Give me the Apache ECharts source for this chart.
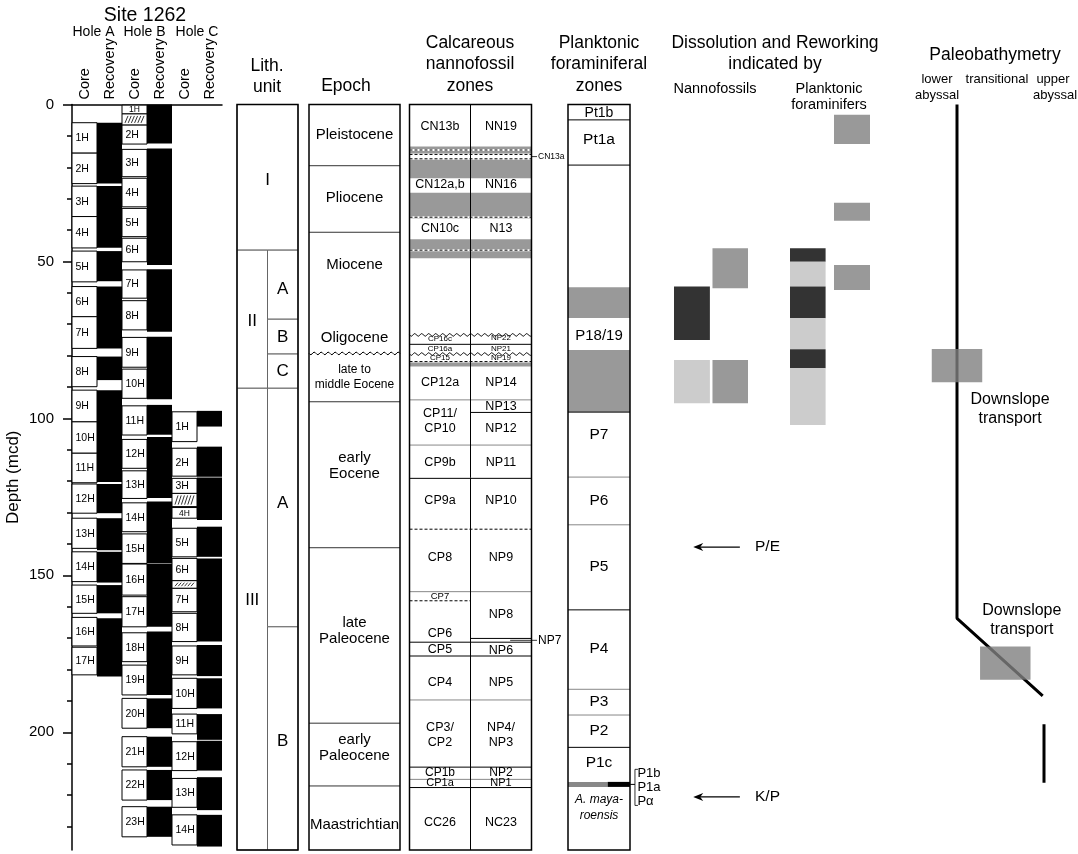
<!DOCTYPE html>
<html><head><meta charset="utf-8"><title>Site 1262</title>
<script src="https://cdn.jsdelivr.net/npm/echarts@6.0.0/dist/echarts.min.js"></script>
<style>html,body{margin:0;padding:0;background:#fff;}#chart{width:1078px;height:854px;}</style>
</head><body><div id="chart"></div>
<script>
// ---------------- DATA (depths in mcd) ----------------
const coreColumnLabels = ['Core', 'Recovery', 'Core', 'Recovery', 'Core', 'Recovery'];
const depthMajor = [0, 50, 100, 150, 200];
const depthMinor = [10, 20, 30, 40, 60, 70, 80, 90, 110, 120, 130, 140, 160, 170, 180, 190, 210, 220, 230];

// cores: [label, top, bottom]
const holeACores = [
  ['1H', 5.8, 15.5], ['2H', 15.5, 25.2], ['3H', 26.0, 35.7], ['4H', 35.7, 45.7], ['5H', 46.7, 56.5],
  ['6H', 58.0, 67.6], ['7H', 67.6, 77.7], ['8H', 80.3, 89.9], ['9H', 91.0, 101.1], ['10H', 101.1, 111.1],
  ['11H', 111.1, 120.5], ['12H', 120.9, 130.2], ['13H', 131.8, 141.4], ['14H', 142.5, 152.0],
  ['15H', 153.1, 162.1], ['16H', 163.4, 172.5], ['17H', 172.9, 181.7]];
const holeARecovery = [[5.8, 25.2], [26.0, 45.6], [46.7, 56.3], [58.0, 77.7], [80.3, 87.8], [91.0, 120.3],
  [120.9, 130.2], [131.8, 142.0], [142.5, 152.3], [153.1, 162.1], [163.7, 182.2]];
const holeBCores = [
  ['1H', 0.2, 3.0], ['2H', 6.5, 12.6], ['3H', 14.3, 23.0], ['4H', 23.5, 32.6], ['5H', 33.1, 42.1], ['6H', 42.6, 50.1],
  ['7H', 52.7, 61.7], ['8H', 62.5, 71.8], ['9H', 74.2, 83.7], ['10H', 84.3, 93.6], ['11H', 96.0, 105.3],
  ['12H', 106.7, 115.9], ['13H', 116.7, 125.5], ['14H', 126.9, 136.1], ['15H', 136.8, 146.2], ['16H', 146.4, 156.3],
  ['17H', 156.8, 166.4], ['18H', 168.3, 177.5], ['19H', 178.6, 188.1], ['20H', 189.2, 198.7], ['21H', 201.4, 211.0],
  ['22H', 212.0, 221.6], ['23H', 223.7, 233.3]];
const holeBRecovery = [[0, 12.4], [14.0, 51.1], [52.5, 72.4], [74.0, 93.9], [95.7, 105.2], [105.9, 125.4],
  [126.5, 146.2], [146.4, 166.4], [167.9, 188.1], [189.2, 198.7], [201.4, 211.0], [212.0, 221.6], [223.7, 233.3]];
const holeBDisturbed = [[3.0, 6.5]];
const holeCCores = [
  ['1H', 97.9, 107.4], ['2H', 109.5, 118.4], ['3H', 119.1, 123.9], ['4H', 128.4, 131.8], ['5H', 135.0, 144.1],
  ['6H', 144.6, 151.7], ['7H', 154.1, 161.6], ['8H', 162.1, 171.1], ['9H', 172.5, 181.7], ['10H', 182.8, 192.4],
  ['11H', 194.2, 200.5], ['12H', 203.0, 212.2], ['13H', 214.7, 223.9], ['14H', 226.3, 235.9]];
const holeCRecovery = [[97.6, 102.6], [109.0, 118.6], [118.8, 132.4], [134.5, 144.1], [144.6, 171.1], [172.2, 182.1],
  [182.8, 192.4], [194.2, 202.4], [202.7, 212.2], [214.3, 224.8], [226.3, 236.4]];
const holeCDisturbed = [[123.9, 128.1], [151.7, 154.1]];

// lithologic units: [label, top, bottom, column(0 full,1 left,2 right), label depth]
const lithUnits = [
  ['I', 0, 46.4, 0, 24.1], ['II', 46.4, 90.4, 1, 69.2], ['A', 46.4, 68.4, 2, 58.8], ['B', 68.4, 79.5, 2, 74.1],
  ['C', 79.5, 90.4, 2, 85.1], ['III', 90.4, 237.5, 1, 157.9], ['A', 90.4, 166.4, 2, 127.0], ['B', 166.4, 237.5, 2, 203.0]];

// epochs
const epochBounds = [[19.5, 'solid'], [40.7, 'solid'], [79.3, 'wavy'], [94.7, 'solid'], [141.2, 'solid'], [197.1, 'solid'], [217.1, 'solid']];
const epochLabels = [['Pleistocene', 9.7, 15], ['Pliocene', 29.8, 15], ['Miocene', 51.1, 15], ['Oligocene', 74.4, 15],
  ['late to', 84.6, 12], ['middle Eocene', 89.2, 12], ['early', 112.6, 15], ['Eocene', 117.6, 15],
  ['late', 165.2, 15], ['Paleocene', 170.2, 15], ['early', 202.5, 15], ['Paleocene', 207.5, 15], ['Maastrichtian', 229.5, 15]];

// calcareous nannofossil zones
const nannoGray = [[13.4, 23.5], [28.1, 36.3], [42.9, 49.0], [81.9, 83.5]];
const nannoWhite = [[15.9, 17.3]];
const nannoBounds = [ // [depth, style, scope 0 both / 1 left / 2 right]
  [14.5, 'dash', 0], [15.9, 'dash', 0], [17.3, 'dash', 0], [35.9, 'dash', 0], [46.4, 'dash', 0],
  [73.4, 'wavy', 0], [76.4, 'solid', 0], [79.5, 'wavy', 0], [81.9, 'dash', 0],
  [94.1, 'gray', 0], [98.1, 'solid', 2], [108.5, 'gray', 0], [119.1, 'solid', 0], [135.3, 'dash', 0],
  [155.2, 'gray', 0], [158.1, 'dash', 1], [170.1, 'solid', 2], [171.3, 'solid', 0], [175.7, 'solid', 0],
  [189.7, 'gray', 0], [211.1, 'solid', 0], [215.0, 'gray', 0], [217.6, 'solid', 0]];
const nannoCPLabels = [['CN13b', 6.9, 12.5], ['CN12a,b', 25.6, 12.5], ['CN10c', 39.6, 12.5], ['CP16c', 74.8, 8], ['CP16a', 77.8, 8],
  ['CP15', 80.6, 8], ['CP12a', 88.7, 12.5], ['CP11/', 98.4, 12.5], ['CP10', 103.2, 12.5], ['CP9b', 114.2, 12.5],
  ['CP9a', 126.3, 12.5], ['CP8', 144.2, 12.5], ['CP7', 156.8, 9.5], ['CP6', 168.7, 12.5], ['CP5', 173.5, 12.5],
  ['CP4', 184.3, 12.5], ['CP3/', 198.6, 12.5], ['CP2', 203.4, 12.5], ['CP1b', 213.0, 12], ['CP1a', 216.2, 11], ['CC26', 228.9, 12.5]];
const nannoNPLabels = [['NN19', 6.9, 12.5], ['NN16', 25.6, 12.5], ['N13', 39.6, 12.5], ['NP22', 74.3, 8], ['NP21', 77.7, 8],
  ['NP19', 80.6, 8], ['NP14', 88.7, 12.5], ['NP13', 96.1, 12.5], ['NP12', 103.2, 12.5], ['NP11', 114.2, 12.5],
  ['NP10', 126.3, 12.5], ['NP9', 144.2, 12.5], ['NP8', 162.6, 12.5], ['NP6', 174.0, 12.5], ['NP5', 184.3, 12.5],
  ['NP4/', 198.6, 12.5], ['NP3', 203.4, 12.5], ['NP2', 213.0, 12], ['NP1', 216.2, 11], ['NC23', 228.9, 12.5]];
const nannoCallouts = [['CN13a', 16.6, 2.0, 8.5], ['NP7', 170.7, 1.65, 12]];

// planktonic foraminiferal zones
const foramGray = [[58.2, 68.0], [78.2, 98.0]];
const foramBounds = [[4.9, '#000'], [19.3, '#000'], [98.0, '#000'], [118.7, '#888'], [133.9, '#888'], [161.0, '#000'],
  [186.3, '#888'], [194.5, '#888'], [204.8, '#000']];
const foramLabels = [['Pt1b', 2.6, 14], ['Pt1a', 11.3, 15.5], ['P18/19', 73.6, 15], ['P7', 105.3, 15.5], ['P6', 126.3, 15.5],
  ['P5', 147.3, 15.5], ['P4', 173.4, 15.5], ['P3', 190.4, 15.5], ['P2', 199.6, 15.5], ['P1c', 209.8, 15.5]];
const foramItalic = [['A. maya-', 221.6], ['roensis', 226.4]];
const foramKPmarker = [215.8, 217.4];
const foramSubzones = [['P1b', 213.0], ['P1a', 217.6], ['Pα', 222.1]];

// dissolution & reworking: [column, top, bottom, shade]
const dissNanno = [[1, 45.8, 58.5, 'mid'], [0, 58.0, 75.0, 'dark'], [0, 81.4, 95.2, 'light'], [1, 81.4, 95.2, 'mid']];
const dissForam = [[0, 45.8, 50.1, 'dark'], [0, 50.1, 58.0, 'light'], [0, 58.0, 68.1, 'dark'], [0, 68.1, 78.0, 'light'],
  [0, 78.0, 84.0, 'dark'], [0, 84.0, 102.1, 'light'], [1, 3.3, 12.6, 'mid'], [1, 31.3, 37.0, 'mid'], [1, 51.1, 59.1, 'mid']];
const eventBoundaries = [['P/E', 141.0], ['K/P', 220.6]];

// paleobathymetry (0 = lower abyssal, 2 = upper abyssal)
const bathyPathA = [[0, 0], [0, 163.7], [1.97, 188.4]];
const bathyPathB = [[2, 197.4], [2, 216.1]];
const bathyBoxes = [[-0.58, 0.58, 77.9, 88.5], [0.53, 1.69, 172.7, 183.3]];
const bathyNotes = [['Downslope\ntransport', 1.22, 96.9], ['Downslope\ntransport', 1.49, 164.2]];

// ---------------- LAYOUT ----------------
const FONT = '"Liberation Sans", Arial, Helvetica, sans-serif';
const D_MAX = 237.5, GRID_TOP = 104.5, GRID_H = 745.5;
const panels = [
  {left: 72, width: 150, min: 0, max: 6},
  {left: 237, width: 61, min: 0, max: 2},
  {left: 309, width: 91, min: 0, max: 1},
  {left: 409.5, width: 122, min: 0, max: 2},
  {left: 568, width: 62, min: 0, max: 1},
  {left: 674, width: 74, min: 0, max: 2},
  {left: 790, width: 80, min: 0, max: 2},
  {left: 922.2, width: 147.9, min: -0.8, max: 2.6}];
const axIdx = g => (g === 0 ? 0 : g + 1);
const SHADE = {dark: '#333333', mid: '#999999', light: '#cccccc'};
const LITH_COLS = [[0, 2], [0, 1], [1, 2]];
const NANNO_SCOPE = [[0, 2], [0, 1], [1, 2]];
const DISS_NANNO_X = [[0, 0.97], [1.04, 2]];
const DISS_FORAM_X = [[0, 0.89], [1.1, 2]];

// ---------------- helpers ----------------
function box(api, x0, x1, d0, d1) {
  const a = api.coord([x0, d0]), b = api.coord([x1, d1]);
  return {x: Math.min(a[0], b[0]), y: Math.min(a[1], b[1]), width: Math.abs(b[0] - a[0]), height: Math.abs(b[1] - a[1])};
}
function txt(x, y, s, size, extra) {
  return {type: 'text', style: Object.assign({text: s, x: x, y: y, fill: '#000', fontSize: size, fontFamily: FONT,
    align: 'center', verticalAlign: 'middle'}, extra || {})};
}
function ln(x1, y1, x2, y2, stroke, w, dash) {
  return {type: 'line', shape: {x1: x1, y1: y1, x2: x2, y2: y2}, style: {stroke: stroke || '#000', lineWidth: w || 1, lineDash: dash || null}};
}
function wavy(xa, xb, y) {
  const pts = [];
  for (let x = xa; x <= xb + 0.01; x += 1) pts.push([x, y + 1.3 * Math.sin((x - xa) / 7 * 2 * Math.PI)]);
  return {type: 'polyline', shape: {points: pts}, style: {stroke: '#000', lineWidth: 1, fill: null}};
}
function custom(g, items, render, z) {
  return {type: 'custom', xAxisIndex: axIdx(g), yAxisIndex: axIdx(g), z: z || 2, silent: true, clip: false,
    data: items.map((it, i) => [i, 0]), renderItem: (params, api) => render(items[params.dataIndex], api)};
}

// ---------------- core items ----------------
const coreItems = [];
[[holeACores, holeARecovery, [], 0], [holeBCores, holeBRecovery, holeBDisturbed, 2], [holeCCores, holeCRecovery, holeCDisturbed, 4]]
  .forEach(([cores, rec, dist, c]) => {
    rec.forEach(r => coreItems.push({kind: 'rec', col: c + 1, top: r[0], bot: r[1]}));
    cores.forEach(k => coreItems.push({kind: 'core', col: c, top: k[1], bot: k[2], label: k[0]}));
    dist.forEach(r => coreItems.push({kind: 'hatch', col: c, top: r[0], bot: r[1]}));
  });
function renderCore(it, api) {
  const r = box(api, it.col, it.col + 1, it.top, it.bot);
  if (it.kind === 'rec') return {type: 'rect', shape: r, style: {fill: '#000'}};
  if (it.kind === 'core') {
    const small = r.height < 14;
    return {type: 'group', children: [
      {type: 'rect', shape: r, style: {fill: '#fff', stroke: '#000', lineWidth: 1}},
      txt(small ? r.x + r.width / 2 : r.x + 3.5, r.y + r.height / 2 + 0.5, it.label, small ? 8.5 : 10.5, {align: small ? 'center' : 'left'})]};
  }
  const ch = [{type: 'rect', shape: r, style: {fill: '#fff', stroke: '#000', lineWidth: 1}}];
  for (let x = r.x + 3; x < r.x + r.width - 5; x += 3.2) ch.push(ln(x, r.y + r.height - 2, x + 3, r.y + 2, '#000', 0.8));
  return {type: 'group', children: ch};
}

function frame(g, xs) {
  return custom(g, [0], (it, api) => {
    const ch = [{type: 'rect', shape: box(api, panels[g].min, panels[g].max, 0, D_MAX), style: {fill: null, stroke: '#000', lineWidth: 1.5}}];
    (xs || []).forEach(x => { const a = api.coord([x, 0]), b = api.coord([x, D_MAX]); ch.push(ln(a[0], a[1], b[0], b[1], '#000', 1)); });
    return {type: 'group', children: ch};
  }, 10);
}

const series = [
  custom(0, coreItems, renderCore, 2),
  // lithology
  custom(1, lithUnits, (u, api) => {
    const c = LITH_COLS[u[3]];
    const r = box(api, c[0], c[1], u[1], u[2]);
    return {type: 'group', children: [
      {type: 'rect', shape: r, style: {fill: '#fff', stroke: '#666', lineWidth: 1}},
      txt(r.x + r.width / 2, api.coord([0, u[4]])[1], u[0], 17)]};
  }, 2),
  frame(1),
  // epochs
  custom(2, epochBounds, (b, api) => {
    const a = api.coord([0, b[0]]), e = api.coord([1, b[0]]);
    return b[1] === 'wavy' ? wavy(a[0], e[0], a[1]) : ln(a[0], a[1], e[0], e[1], '#333', 1);
  }, 3),
  custom(2, epochLabels, (l, api) => { const p = api.coord([0.5, l[1]]); return txt(p[0], p[1], l[0], l[2]); }, 4),
  frame(2),
  // nannofossil zones
  custom(3, nannoGray, (b, api) => ({type: 'rect', shape: box(api, 0, 2, b[0], b[1]), style: {fill: '#999'}}), 1),
  custom(3, nannoWhite, (b, api) => ({type: 'rect', shape: box(api, 0, 2, b[0], b[1]), style: {fill: '#fff'}}), 2),
  custom(3, nannoBounds, (b, api) => {
    const s = NANNO_SCOPE[b[2]];
    const a = api.coord([s[0], b[0]]), e = api.coord([s[1], b[0]]);
    if (b[1] === 'wavy') return wavy(a[0], e[0], a[1]);
    if (b[1] === 'dash') return {type: 'group', children: [ln(a[0], a[1], e[0], e[1], '#fff', 2), ln(a[0], a[1], e[0], e[1], '#000', 1, [3, 2])]};
    return ln(a[0], a[1], e[0], e[1], b[1] === 'gray' ? '#888' : '#000', 1);
  }, 3),
  custom(3, nannoCPLabels, (l, api) => { const p = api.coord([0.5, l[1]]); return txt(p[0], p[1], l[0], l[2]); }, 4),
  custom(3, nannoNPLabels, (l, api) => { const p = api.coord([1.5, l[1]]); return txt(p[0], p[1], l[0], l[2]); }, 4),
  custom(3, nannoCallouts, (l, api) => {
    const a = api.coord([l[2], l[1]]), e = api.coord([2.09, l[1]]);
    return {type: 'group', children: [ln(a[0], a[1], e[0], e[1], '#000', 0.8), txt(e[0] + 1, e[1], l[0], l[3], {align: 'left'})]};
  }, 4),
  frame(3, [1]),
  // foraminiferal zones
  custom(4, foramGray, (b, api) => ({type: 'rect', shape: box(api, 0, 1, b[0], b[1]), style: {fill: '#999'}}), 1),
  custom(4, foramBounds, (b, api) => { const a = api.coord([0, b[0]]), e = api.coord([1, b[0]]); return ln(a[0], a[1], e[0], e[1], b[1], 1); }, 3),
  custom(4, foramLabels, (l, api) => { const p = api.coord([0.5, l[1]]); return txt(p[0], p[1], l[0], l[2]); }, 4),
  custom(4, foramItalic, (l, api) => { const p = api.coord([0.5, l[1]]); return txt(p[0], p[1], l[0], 12, {fontStyle: 'italic'}); }, 4),
  custom(4, [foramKPmarker], (m, api) => {
    const mid = (m[0] + m[1]) / 2;
    const top = api.coord([1.08, foramSubzones[0][1] - 1.2])[1], bot = api.coord([1.08, foramSubzones[2][1] + 1.2])[1];
    const bx = api.coord([1.08, mid])[0];
    const ch = [
      {type: 'rect', shape: box(api, 0, 0.64, m[0], m[1]), style: {fill: '#888'}},
      {type: 'rect', shape: box(api, 0.64, 1, m[0], m[1]), style: {fill: '#000'}},
      ln(api.coord([1, mid])[0], api.coord([1, mid])[1], bx, api.coord([1, mid])[1], '#000', 1),
      ln(bx, top, bx, bot, '#000', 0.8),
      ln(bx, top, bx + 3, top, '#000', 0.8), ln(bx, bot, bx + 3, bot, '#000', 0.8)];
    foramSubzones.forEach(s => { const p = api.coord([1.12, s[1]]); ch.push(txt(p[0], p[1], s[0], 13, {align: 'left'})); });
    return {type: 'group', children: ch};
  }, 5),
  frame(4),
  // dissolution and reworking
  custom(5, dissNanno, (b, api) => { const c = DISS_NANNO_X[b[0]]; return {type: 'rect', shape: box(api, c[0], c[1], b[1], b[2]), style: {fill: SHADE[b[3]]}}; }, 2),
  custom(6, dissForam, (b, api) => { const c = DISS_FORAM_X[b[0]]; return {type: 'rect', shape: box(api, c[0], c[1], b[1], b[2]), style: {fill: SHADE[b[3]]}}; }, 2),
  custom(5, eventBoundaries, (ev, api) => {
    const s = api.coord([1.78, ev[1]]), e = api.coord([0.52, ev[1]]);
    return {type: 'group', children: [
      ln(s[0], s[1], e[0] + 6, e[1], '#000', 1.2),
      {type: 'polygon', shape: {points: [[e[0], e[1]], [e[0] + 10, e[1] - 4], [e[0] + 7, e[1]], [e[0] + 10, e[1] + 4]]}, style: {fill: '#000'}},
      txt(api.coord([2.19, ev[1]])[0], s[1], ev[0], 15.5, {align: 'left'})]};
  }, 3),
  // paleobathymetry
  {type: 'line', xAxisIndex: axIdx(7), yAxisIndex: axIdx(7), data: bathyPathA, symbol: 'none', silent: true, z: 2,
    lineStyle: {color: '#000', width: 3}},
  {type: 'line', xAxisIndex: axIdx(7), yAxisIndex: axIdx(7), data: bathyPathB, symbol: 'none', silent: true, z: 2,
    lineStyle: {color: '#000', width: 3}},
  custom(7, bathyBoxes, (b, api) => ({type: 'rect', shape: box(api, b[0], b[1], b[2], b[3]), style: {fill: 'rgba(128,128,128,0.8)'}}), 5),
  custom(7, bathyNotes, (n, api) => { const p = api.coord([n[1], n[2]]); return txt(p[0], p[1], n[0], 16, {lineHeight: 19}); }, 5)
];

const headers = [
  ['Site 1262', 145, 16, 19.5], ['Hole A', 93.5, 32, 14], ['Hole B', 144.5, 32, 14], ['Hole C', 197, 32, 14],
  ['Lith.', 267, 66, 17.5], ['unit', 267, 87, 17.5], ['Epoch', 346, 86, 17.5],
  ['Calcareous', 470, 43, 17.5], ['nannofossil', 470, 64, 17.5], ['zones', 470, 86, 17.5],
  ['Planktonic', 599, 43, 17.5], ['foraminiferal', 599, 64, 17.5], ['zones', 599, 86, 17.5],
  ['Dissolution and Reworking', 775, 43, 17.5], ['indicated by', 775, 64, 17.5],
  ['Nannofossils', 715, 89, 14.5], ['Planktonic', 829, 89, 14.5], ['foraminifers', 829, 105, 14.5],
  ['Paleobathymetry', 995, 55, 17.5],
  ['lower', 937, 79, 13], ['abyssal', 937, 95, 13], ['transitional', 997, 79, 13], ['upper', 1053, 79, 13], ['abyssal', 1055, 95, 13]];

const option = {
  backgroundColor: '#fff',
  animation: false,
  grid: panels.map(p => ({left: p.left, top: GRID_TOP, width: p.width, height: GRID_H})),
  xAxis: [
    {gridIndex: 0, type: 'value', min: 0, max: 6, show: false},
    {gridIndex: 0, type: 'category', position: 'top', data: coreColumnLabels, boundaryGap: true,
      axisLine: {show: true, lineStyle: {color: '#000', width: 1.5}}, axisTick: {show: false},
      axisLabel: {rotate: 90, fontSize: 14.5, margin: 5, color: '#000', fontFamily: FONT, interval: 0}, splitLine: {show: false}}
  ].concat(panels.slice(1).map((p, i) => ({gridIndex: i + 1, type: 'value', min: p.min, max: p.max, show: false}))),
  yAxis: [
    {gridIndex: 0, type: 'value', inverse: true, min: 0, max: D_MAX, interval: 50, position: 'left',
      axisLine: {show: true, onZero: false, lineStyle: {color: '#000', width: 1.5}},
      axisTick: {show: true, length: 9, customValues: depthMajor, lineStyle: {color: '#000', width: 1.5}},
      axisLabel: {customValues: depthMajor, fontSize: 15, color: '#000', margin: 18, fontFamily: FONT,
        formatter: v => (v % 50 === 0 ? String(v) : '')},
      splitLine: {show: false}, name: 'Depth (mcd)', nameLocation: 'middle', nameGap: 50, nameRotate: 90,
      nameTextStyle: {fontSize: 17, color: '#000', fontFamily: FONT}},
    {gridIndex: 0, type: 'value', inverse: true, min: 0, max: D_MAX, interval: 10, position: 'left',
      axisLine: {show: false, onZero: false}, axisTick: {show: true, length: 5, customValues: depthMinor, lineStyle: {color: '#000', width: 1.5}},
      axisLabel: {show: false}, splitLine: {show: false}}
  ].concat(panels.slice(1).map((p, i) => ({gridIndex: i + 1, type: 'value', inverse: true, min: 0, max: D_MAX, show: false}))),
  graphic: {elements: headers.map(h => ({type: 'text', x: h[1], y: h[2], silent: true,
    style: {text: h[0], fontSize: h[3], fontFamily: FONT, fill: '#000', align: 'center', verticalAlign: 'middle'}}))},
  series: series
};
const chart = echarts.init(document.getElementById('chart'));
chart.setOption(option);
</script></body></html>
